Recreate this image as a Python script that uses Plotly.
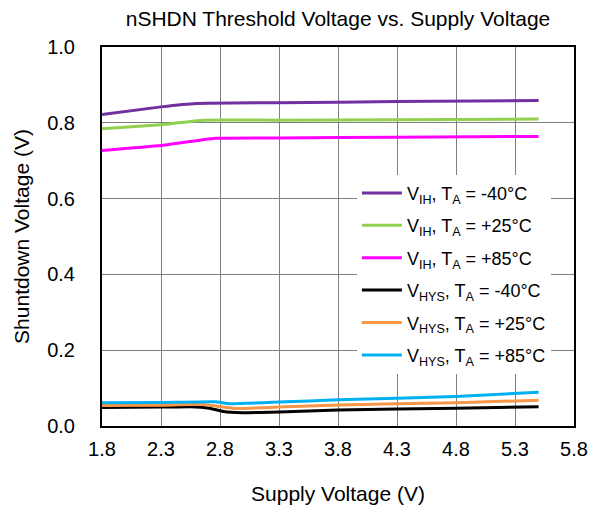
import plotly.graph_objects as go

# Supply voltage (V) sample points and shutdown voltage values (V)
x_vih_m40 = [1.8, 2.3, 2.6, 3.3, 4.3, 5.5]
y_vih_m40 = [0.822, 0.842, 0.851, 0.853, 0.856, 0.859]

x_vih_25 = [1.8, 2.3, 2.66, 3.3, 4.3, 5.5]
y_vih_25 = [0.784, 0.795, 0.807, 0.807, 0.808, 0.810]

x_vih_85 = [1.8, 2.3, 2.76, 3.3, 4.3, 5.5]
y_vih_85 = [0.727, 0.740, 0.759, 0.760, 0.762, 0.764]

x_vhys_m40 = [1.8, 2.3, 2.55, 2.71, 2.83, 2.99, 3.3, 3.8, 4.8, 5.5]
y_vhys_m40 = [0.049, 0.050, 0.051, 0.047, 0.038, 0.035, 0.037, 0.042, 0.047, 0.051]

x_vhys_25 = [1.8, 2.3, 2.66, 2.8, 2.94, 3.3, 3.8, 4.8, 5.5]
y_vhys_25 = [0.054, 0.055, 0.057, 0.051, 0.046, 0.050, 0.0555, 0.0616, 0.068]

x_vhys_85 = [1.8, 2.3, 2.76, 2.885, 3.3, 3.8, 4.8, 5.5]
y_vhys_85 = [0.0616, 0.062, 0.064, 0.059, 0.063, 0.069, 0.078, 0.089]

series_names = [
    "V<sub>IH</sub>, T<sub>A</sub> = -40°C",
    "V<sub>IH</sub>, T<sub>A</sub> = +25°C",
    "V<sub>IH</sub>, T<sub>A</sub> = +85°C",
    "V<sub>HYS</sub>, T<sub>A</sub> = -40°C",
    "V<sub>HYS</sub>, T<sub>A</sub> = +25°C",
    "V<sub>HYS</sub>, T<sub>A</sub> = +85°C",
]
series_colors = ["#7030A0", "#92D050", "#FF00FF", "#000000", "#F79646", "#00B0F0"]
series_x = [x_vih_m40, x_vih_25, x_vih_85, x_vhys_m40, x_vhys_25, x_vhys_85]
series_y = [y_vih_m40, y_vih_25, y_vih_85, y_vhys_m40, y_vhys_25, y_vhys_85]

x_ticks = [1.8, 2.3, 2.8, 3.3, 3.8, 4.3, 4.8, 5.3, 5.8]
y_ticks = [0.0, 0.2, 0.4, 0.6, 0.8, 1.0]

FONT = "Liberation Sans, Arial, sans-serif"

fig = go.Figure()
for i, (name, c, xs, ys) in enumerate(zip(series_names, series_colors, series_x, series_y)):
    fig.add_trace(go.Scatter(
        x=xs, y=ys, mode="lines", name=name,
        line=dict(color=c, width=3, shape="spline", smoothing=0.4),
        legendgroup=f"g{i}",
    ))

# page body adds an 8px margin, so the figure is sized 8px smaller
fig.update_layout(
    width=590, height=504,
    margin=dict(l=94, r=24, t=39, b=86),
    paper_bgcolor="white", plot_bgcolor="white",
    font=dict(family=FONT, size=20, color="black"),
    title=dict(text="nSHDN Threshold Voltage vs. Supply Voltage",
               x=0.5, xref="paper", xanchor="center", y=0.993, yanchor="top",
               font=dict(size=21, color="black")),
    showlegend=True,
    legend=dict(
        x=0.54, y=0.663, xanchor="left", yanchor="top",
        bgcolor="white", borderwidth=0,
        font=dict(size=18, color="black"),
        tracegroupgap=6, itemwidth=40,
    ),
)

fig.update_xaxes(
    range=[1.8, 5.8], tickvals=x_ticks, ticktext=[f"{v:.1f}" for v in x_ticks],
    showgrid=True, gridcolor="#7f7f7f", gridwidth=1,
    showline=True, linecolor="black", linewidth=2, mirror=True,
    ticks="", ticklabelstandoff=4, zeroline=False, automargin=False,
    tickfont=dict(size=20),
    title=dict(text="Supply Voltage (V)", font=dict(size=21), standoff=27),
)
fig.update_yaxes(
    range=[0, 1.0], tickvals=y_ticks, ticktext=[f"{v:.1f}" for v in y_ticks],
    showgrid=True, gridcolor="#7f7f7f", gridwidth=1,
    showline=True, linecolor="black", linewidth=2, mirror=True,
    ticks="", ticklabelstandoff=21, zeroline=False, automargin=False,
    tickfont=dict(size=20),
    title=dict(text="Shuntdown Voltage (V)", font=dict(size=21), standoff=12),
)

fig.write_html("out.html")
